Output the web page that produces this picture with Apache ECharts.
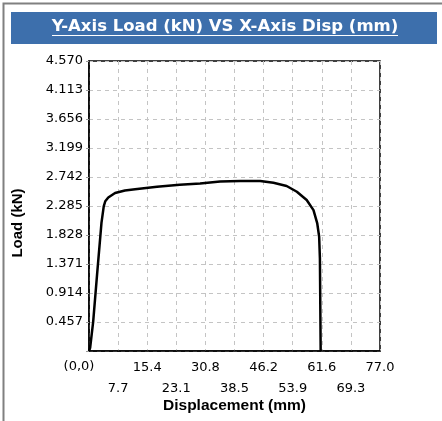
<!DOCTYPE html>
<html>
<head>
<meta charset="utf-8">
<script src="https://cdn.jsdelivr.net/npm/echarts@6/dist/echarts.min.js"></script>
<style>
  html, body { margin: 0; padding: 0; background: #fff; }
  #main { width: 442px; height: 421px; }
</style>
</head>
<body>
<div id="main"></div>
<script>
// 曲线数据 (位移 mm, 载荷 kN)
var dispData = [0, 0.3, 1.1, 2.2, 3.3, 3.9, 4.3, 5.1, 6.9, 9.5, 12.2, 18.0, 24.0, 29.4, 34.7, 40.0, 45.3, 48.8, 52.3, 55.0, 57.6, 59.4, 60.4, 60.9, 61.1, 61.3];
var loadData = [0, 0.05, 0.46, 1.25, 2.02, 2.28, 2.36, 2.42, 2.49, 2.53, 2.55, 2.59, 2.62, 2.64, 2.67, 2.68, 2.68, 2.65, 2.60, 2.51, 2.38, 2.22, 2.01, 1.80, 1.46, 0];
var xMax = 77.0, xStep = 7.7;
var yMax = 4.57, yStep = 0.457;
var originLabel = '(0,0)';

var chart = echarts.init(document.getElementById('main'));

var points = [];
for (var i = 0; i < dispData.length; i++) {
    points.push([dispData[i], loadData[i]]);
}

var option = {
    animation: false,
    backgroundColor: '#fff',
    graphic: [
        // 外框
        { type: 'rect', shape: { x: 3.5, y: 3.5, width: 460, height: 440 }, style: { fill: 'none', stroke: '#808080', lineWidth: 2 } },
        // 标题栏
        { type: 'rect', shape: { x: 11, y: 12, width: 426, height: 32 }, style: { fill: '#3d6fac' } },
        { type: 'text', x: 225, y: 27, style: { text: 'Y-Axis Load (kN) VS X-Axis Disp (mm)', fill: '#fff', font: 'bold 16.5px "DejaVu Sans"', align: 'center', verticalAlign: 'middle' } },
        { type: 'line', shape: { x1: 52, y1: 35.5, x2: 398, y2: 35.5 }, style: { stroke: '#fff', lineWidth: 1 } },
        // Y轴名称
        { type: 'text', x: 18, y: 223, rotation: Math.PI / 2, style: { text: 'Load (kN)', fill: '#000', font: 'bold 15px "Liberation Sans"', align: 'center', verticalAlign: 'middle' } },
        // 原点标签
        { type: 'text', x: 79, y: 367, style: { text: originLabel, fill: '#000', font: '13px "DejaVu Sans"', align: 'center', verticalAlign: 'middle' } }
    ],
    grid: { left: 89, top: 61, width: 291, height: 290, show: true, borderColor: '#000', borderWidth: 1.5, outerBoundsMode: 'none', containLabel: false },
    xAxis: {
        type: 'value', min: 0, max: xMax, interval: xStep,
        name: 'Displacement (mm)', nameLocation: 'middle', nameGap: 47, nameMoveOverlap: false,
        nameTextStyle: { color: '#000', fontFamily: 'Liberation Sans', fontWeight: 'bold', fontSize: 15.5 },
        axisLine: { lineStyle: { color: '#000', width: 1.5 } },
        axisTick: { show: false },
        splitLine: { lineStyle: { color: '#c4c4c4', type: [4, 4] } },
        axisLabel: {
            color: '#000', fontFamily: 'DejaVu Sans', fontSize: 13, margin: 6, lineHeight: 21,
            showMinLabel: true, showMaxLabel: true, hideOverlap: false,
            formatter: function (v, idx) {
                if (v === 0) return '';
                var s = v.toFixed(1);
                return idx % 2 === 1 ? '\n' + s : s;
            }
        }
    },
    yAxis: {
        type: 'value', min: 0, max: yMax, interval: yStep,
        axisLine: { show: true, lineStyle: { color: '#000', width: 1.5 } },
        axisTick: { show: true, length: 3, lineStyle: { color: '#999' } },
        splitLine: { lineStyle: { color: '#c4c4c4', type: [4, 4] } },
        axisLabel: {
            color: '#000', fontFamily: 'DejaVu Sans', fontSize: 13, margin: 6,
            showMaxLabel: true,
            formatter: function (v) {
                if (v === 0) return '';
                return v.toFixed(3);
            }
        }
    },
    series: [{
        type: 'line',
        data: points,
        showSymbol: false,
        lineStyle: { color: '#000', width: 2.5 }
    }]
};

chart.setOption(option);
</script>
</body>
</html>
